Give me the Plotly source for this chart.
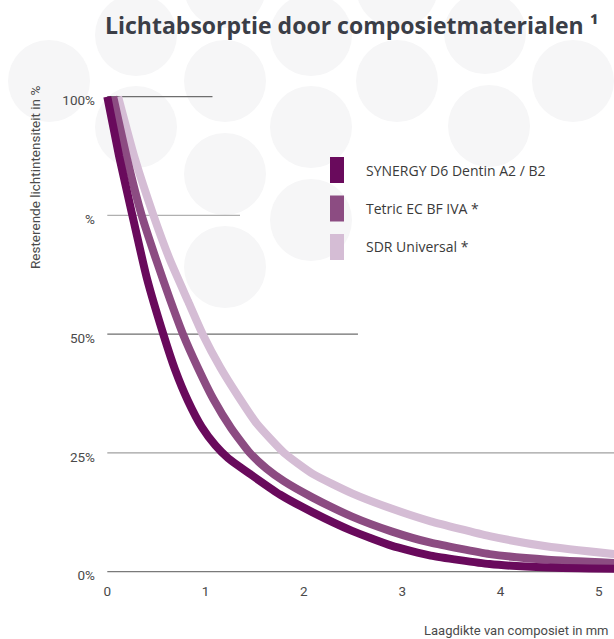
import plotly.graph_objects as go

# ---------------- data ----------------
series_names = ["SYNERGY D6 Dentin A2 / B2", "Tetric EC BF IVA *", "SDR Universal *"]
series_colors = ["#690a5c", "#8c4c82", "#d5bdd5"]

synergy_x = [0, 0.12, 0.25, 0.40, 0.57, 0.69, 0.82, 0.96, 1.10, 1.23, 1.45, 1.76, 2.09, 2.49, 2.89, 3.29, 3.89, 4.48, 5.2]
synergy_y = [100, 87.5, 75.5, 62, 50, 42.5, 36, 30.5, 26.6, 23.9, 20.6, 16.2, 12.5, 8.6, 5.5, 3.4, 1.6, 0.9, 0.6]

tetric_x = [0.06, 0.20, 0.35, 0.50, 0.64, 0.77, 0.92, 1.08, 1.26, 1.45, 1.62, 1.80, 2.09, 2.49, 2.89, 3.29, 3.89, 4.48, 5.2]
tetric_y = [100, 87, 75, 65.5, 57.2, 50, 43.0, 36.3, 30.2, 25.0, 21.7, 19.0, 15.6, 11.6, 8.5, 6.1, 3.7, 2.5, 1.8]

sdr_x = [0.11, 0.28, 0.47, 0.64, 0.82, 0.97, 1.15, 1.33, 1.52, 1.80, 2.09, 2.49, 2.89, 3.29, 3.89, 4.48, 5.2]
sdr_y = [100, 87, 75, 65.5, 57, 50, 43, 37, 31.2, 25, 20.6, 16.5, 13.3, 10.6, 7.5, 5.3, 3.6]

x_ticks = [0, 1, 2, 3, 4, 5]
y_ticks = [0, 25, 50, 75, 100]
y_ticktext = ["0%", "25%", "50%", "%", "100%"]
# partial horizontal reference lines: (y value, x end)
grid_levels = [100, 75, 50, 25, 0]
grid_ends = [1.07, 1.35, 2.55, 6, 6]
grid_colors = ["#6e6e6e", "#b0b0b0", "#6e6e6e", "#a0a0a0", "#7a7a7a"]

title_text = "Lichtabsorptie door composietmaterialen ¹"
y_title = "Resterende lichtintensiteit in %"
x_title = "Laagdikte van composiet in mm"

# ---------------- layout geometry ----------------
W, H = 614, 639
ML, MR, MT, MB = 100, 0, 80, 59
PW, PH = W - ML - MR, H - MT - MB


def px(xp):
    return (xp - ML) / PW


def py(yp):
    return (H - MB - yp) / PH


fig = go.Figure()

# background decorative circles (pixel centres)
circle_centres = [
    (49, 81), (225, -13), (225, 81), (225, 174), (225, 267),
    (397, -13), (397, 81), (573, 81),
    (136, 35), (136, 127), (311, 35), (311, 127), (311, 220),
    (485, 33), (489, 126),
]
R = 41
shapes = []
for cx, cy in circle_centres:
    shapes.append(dict(type="circle", xref="paper", yref="paper",
                       x0=px(cx - R), x1=px(cx + R), y0=py(cy + R), y1=py(cy - R),
                       fillcolor="#f6f6f7", line=dict(width=0), layer="below"))

for lvl, xe, col in zip(grid_levels, grid_ends, grid_colors):
    shapes.append(dict(type="line", xref="x", yref="y", x0=0, x1=xe, y0=lvl, y1=lvl,
                       line=dict(color=col, width=1.3), layer="below"))

# legend (manual, tall swatches)
for i, (name, col) in enumerate(zip(series_names, series_colors)):
    cyl = 170 + 38.5 * i
    shapes.append(dict(type="rect", xref="paper", yref="paper",
                       x0=px(330), x1=px(344), y0=py(cyl + 13), y1=py(cyl - 13),
                       fillcolor=col, line=dict(width=0)))

xs = [synergy_x, tetric_x, sdr_x]
ys = [synergy_y, tetric_y, sdr_y]
for i in [2, 1, 0]:
    fig.add_trace(go.Scatter(x=xs[i], y=ys[i], mode="lines", name=series_names[i],
                             line=dict(color=series_colors[i], width=8, shape="spline", smoothing=0.5),
                             showlegend=False, hoverinfo="skip"))

annotations = [
    dict(text=title_text, xref="paper", yref="paper", x=px(351), y=py(25),
         xanchor="center", yanchor="middle", showarrow=False,
         font=dict(family="Open Sans", size=23, color="#3b3e47", weight="bold")),
    dict(text=y_title, xref="paper", yref="paper", x=px(35), y=py(178), textangle=-90,
         xanchor="center", yanchor="middle", showarrow=False,
         font=dict(family="Roboto", size=13.5, color="#4a4a4a")),
    dict(text=x_title, xref="paper", yref="paper", x=px(611), y=py(630),
         xanchor="right", yanchor="middle", showarrow=False,
         font=dict(family="Roboto", size=13, color="#4a4a4a")),
]
for i, name in enumerate(series_names):
    cyl = 170 + 38.5 * i
    annotations.append(dict(text=name, xref="paper", yref="paper", x=px(364), y=py(cyl),
                            xanchor="left", yanchor="middle", showarrow=False,
                            font=dict(family="Open Sans", size=14, color="#3a3a3a")))

fig.update_layout(
    width=W, height=H, autosize=False,
    margin=dict(l=ML, r=MR, t=MT, b=MB, pad=0),
    paper_bgcolor="white", plot_bgcolor="rgba(0,0,0,0)",
    shapes=shapes, annotations=annotations,
    xaxis=dict(range=[(ML - 107.3) / 98.3, (W - 107.3) / 98.3], tickvals=x_ticks,
               showgrid=False, zeroline=False, showline=False, ticks="",
               tickfont=dict(family="Roboto", size=13.5, color="#4a4a4a"),
               ticklabelstandoff=1),
    yaxis=dict(range=[-(H - MB - 571.7) / 4.75, 100 + (96.7 - MT) / 4.75], tickvals=y_ticks,
               ticktext=y_ticktext, showgrid=False, zeroline=False, showline=False, ticks="",
               tickfont=dict(family="Roboto", size=13.5, color="#4a4a4a"),
               ticklabelstandoff=4, ticklabelshift=4),
    showlegend=False,
)

fig.write_html("out.html", config={"displayModeBar": False},
               post_script="document.body.style.margin='0';")
